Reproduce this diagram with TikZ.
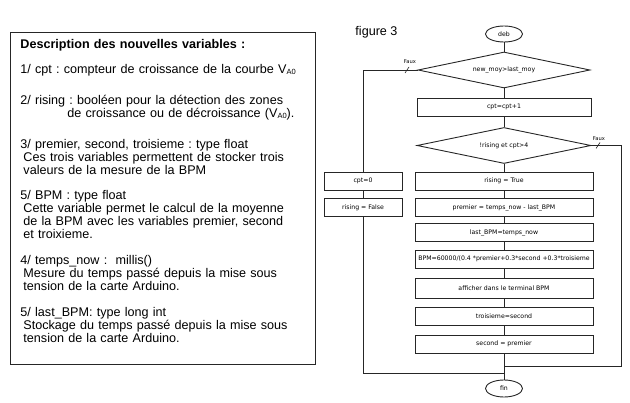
\documentclass[tikz,border=0pt]{standalone}
\usepackage{fontspec}
\setmainfont{Liberation Sans}
\newfontfamily\flowfont{DejaVu Sans}
\usetikzlibrary{shapes.geometric}
\frenchspacing

\newcommand{\vazero}{V\raisebox{-0.6pt}{\fontsize{7.5}{8}\selectfont A0}}

\begin{document}
\begin{tikzpicture}[x=1pt,y=-1pt,line width=0.9pt,draw=black!85,
	box/.style={draw,rectangle,minimum height=18pt,inner sep=0pt,font=\flowfont\fontsize{6.2}{7}\selectfont},
	test/.style={draw,diamond,aspect=4.8,inner sep=0pt,minimum width=172pt,minimum height=36pt,font=\flowfont\fontsize{6.2}{7}\selectfont},
	term/.style={draw,ellipse,inner sep=0pt,minimum width=37pt,minimum height=16pt,font=\flowfont\fontsize{6.2}{7}\selectfont},
	item/.style={anchor=base west,inner sep=0pt,text width=292pt,align=left,font=\fontsize{12.6}{12.9}\selectfont},
	faux/.style={inner sep=0pt,font=\flowfont\fontsize{5.2}{6}\selectfont}]
	\useasboundingbox (0,0) rectangle (630,403);

	% descriptions
	\draw[line width=0.8pt] (10,32) rectangle (315,364);
	\node[item] (titre) at (20,49) {\textbf{Description des nouvelles variables :}};
	\node[item] (cpt) at (20,74) {1/ cpt : compteur de croissance de la courbe \vazero};
	\node[item] (rising) at (20,105) {2/ rising : booléen pour la détection des zones\\\hspace*{47pt}de croissance ou de décroissance (\vazero).};
	\node[item] (premier) at (20,148.5) {3/ premier, second, troisieme : type float\\\hspace*{3pt}Ces trois variables permettent de stocker trois\\\hspace*{3pt}valeurs de la mesure de la BPM};
	\node[item] (bpm) at (20,200) {5/ BPM : type float\\\hspace*{3pt}Cette variable permet le calcul de la moyenne\\\hspace*{3pt}de la BPM avec les variables premier, second\\\hspace*{3pt}et troixieme.};
	\node[item] (now) at (20,265) {4/ temps\_now :\ \ millis()\\\hspace*{3pt}Mesure du temps passé depuis la mise sous\\\hspace*{3pt}tension de la carte Arduino.};
	\node[item] (last) at (20,317) {5/ last\_BPM: type long int\\\hspace*{3pt}Stockage du temps passé depuis la mise sous\\\hspace*{3pt}tension de la carte Arduino.};

	% figure 3
	\node[anchor=west,inner sep=0pt,font=\fontsize{12.6}{13}\selectfont] (fig) at (355,32) {figure 3};
	\node[term] (deb) at (504,34) {deb};
	\node[test] (d1) at (504,70) {new\_moy>last\_moy};
	\node[box,minimum width=174pt] (inc) at (504,107) {cpt=cpt+1};
	\node[test,minimum width=174pt] (d2) at (504,145.5) {!rising et cpt>4};
	\node[box,minimum width=78pt] (cz) at (363,181) {cpt=0};
	\node[box,minimum width=78pt] (rf) at (363,207.5) {rising = False};
	\node[box,minimum width=178pt] (rt) at (504,181) {rising = True};
	\node[box,minimum width=178pt] (prem) at (504,207.5) {premier = temps\_now - last\_BPM};
	\node[box,minimum width=178pt] (lastb) at (504,232.5) {last\_BPM=temps\_now};
	\node[box,minimum width=178pt] (calc) at (504,259) {BPM=60000/(0.4 *premier+0.3*second +0.3*troisieme};
	\node[box,minimum width=178pt,minimum height=20pt] (aff) at (504,288) {afficher dans le terminal BPM};
	\node[box,minimum width=178pt] (trois) at (504,316) {troisieme=second};
	\node[box,minimum width=178pt] (sec) at (504,344) {second = premier};
	\node[term,minimum height=17pt] (fin) at (504,388.5) {fin};

	\draw (deb) -- (d1);
	\draw (d1) -- (inc);
	\draw (inc) -- (d2);
	\draw (d2) -- (rt);
	\draw (rt) -- (prem);
	\draw (prem) -- (lastb);
	\draw (lastb) -- (calc);
	\draw (calc) -- (aff);
	\draw (aff) -- (trois);
	\draw (trois) -- (sec);
	\draw (sec) -- (fin);

	% branches Faux
	\coordinate (joinl) at (504,373);
	\coordinate (joinr) at (504,366);
	\coordinate (cornr) at (621,366);
	\draw (d1.west) -| (cz);
	\draw (cz) -- (rf);
	\draw (rf) |- (joinl);
	\draw (d2.east) -| (cornr) -- (joinr);
	\node[faux] (faux1) at (410,62) {Faux};
	\node[faux] (faux2) at (599,139) {Faux};
	\draw[line width=0.6pt] (405,73) -- (409,67);
	\draw[line width=0.6pt] (596,148.5) -- (600,142.5);

\end{tikzpicture}
\end{document}
